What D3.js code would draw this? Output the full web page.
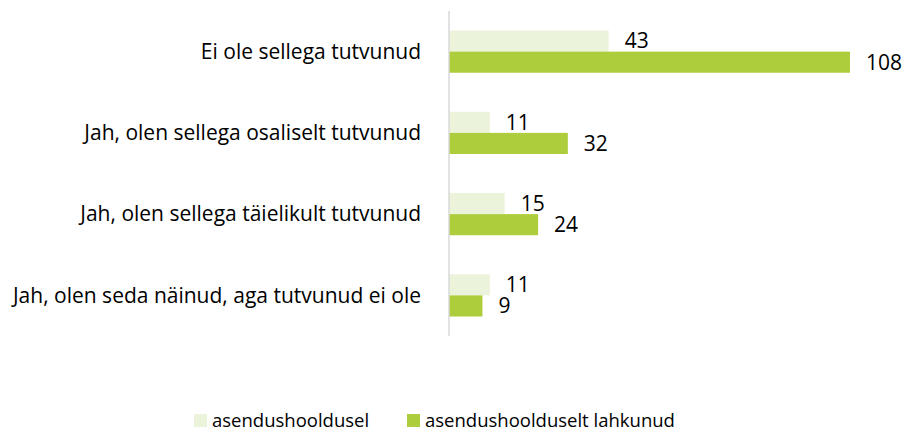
<!DOCTYPE html>
<html>
<head>
<meta charset="utf-8">
<script src="https://cdn.jsdelivr.net/npm/d3@7"></script>
<style>
  body { margin: 0; background: #fff; }
  text { font-family: "Open Sans", "Liberation Sans", sans-serif; fill: #000; }
</style>
</head>
<body>
<div id="chart"></div>
<script>
// data
const categories = [
    "Ei ole sellega tutvunud",
    "Jah, olen sellega osaliselt tutvunud",
    "Jah, olen sellega täielikult tutvunud",
    "Jah, olen seda näinud, aga tutvunud ei ole"
];
const seriesNames = ["asendushooldusel", "asendushoolduselt lahkunud"];
const inCare = [43, 11, 15, 11];
const leftCare = [108, 32, 24, 9];
const colors = ["#EBF3DA", "#ADCD3C"];

const width = 904, height = 432;
const svg = d3.select("#chart").append("svg")
    .attr("width", width)
    .attr("height", height);

let x = d3.scaleLinear().domain([0, 108]).range([449, 850]);
let y = d3.scaleBand().domain(categories).range([11, 336]).paddingInner(0.48).paddingOuter(0.24);
let sub = d3.scaleBand().domain(seriesNames).range([0, y.bandwidth()]);

let rows = categories.map((c, i) => ({ cat: c, vals: [inCare[i], leftCare[i]] }));

// bars
let group = svg.append("g");
let g = group.selectAll(".row")
    .data(rows)
    .enter().append("g")
    .attr("class", "row")
    .attr("transform", d => "translate(0," + y(d.cat) + ")");

g.selectAll("rect")
    .data(d => d.vals.map((v, j) => ({ v: v, s: seriesNames[j], j: j })))
    .enter().append("rect")
    .attr("x", x(0))
    .attr("y", d => sub(d.s))
    .attr("width", d => x(d.v) - x(0))
    .attr("height", sub.bandwidth())
    .attr("fill", d => colors[d.j]);

g.selectAll(".val")
    .data(d => d.vals.map((v, j) => ({ v: v, s: seriesNames[j] })))
    .enter().append("text")
    .attr("class", "val")
    .attr("x", d => x(d.v) + 16)
    .attr("y", d => sub(d.s) + sub.bandwidth() / 2)
    .attr("dy", "0.35em")
    .style("font-size", "21px")
    .text(d => d.v);

// category axis line
svg.append("line")
    .attr("x1", x(0)).attr("x2", x(0))
    .attr("y1", 11).attr("y2", 336)
    .attr("stroke", "#d9d9d9")
    .attr("stroke-width", 1.5);

// category labels
svg.append("g").selectAll("text")
    .data(categories)
    .enter().append("text")
    .attr("x", 421)
    .attr("y", d => y(d) + y.bandwidth() / 2)
    .attr("dy", "0.35em")
    .attr("text-anchor", "end")
    .style("font-size", "21px")
    .text(d => d);

// legend
let legendX = [194, 407];
let legend = svg.append("g").selectAll("g")
    .data(seriesNames)
    .enter().append("g")
    .attr("transform", (d, i) => "translate(" + legendX[i] + ",414)");
legend.append("rect")
    .attr("width", 13).attr("height", 13)
    .attr("fill", (d, i) => colors[i]);
legend.append("text")
    .attr("x", 18).attr("y", 7)
    .attr("dy", "0.35em")
    .style("font-size", "18.5px")
    .text(d => d);
</script>
</body>
</html>
